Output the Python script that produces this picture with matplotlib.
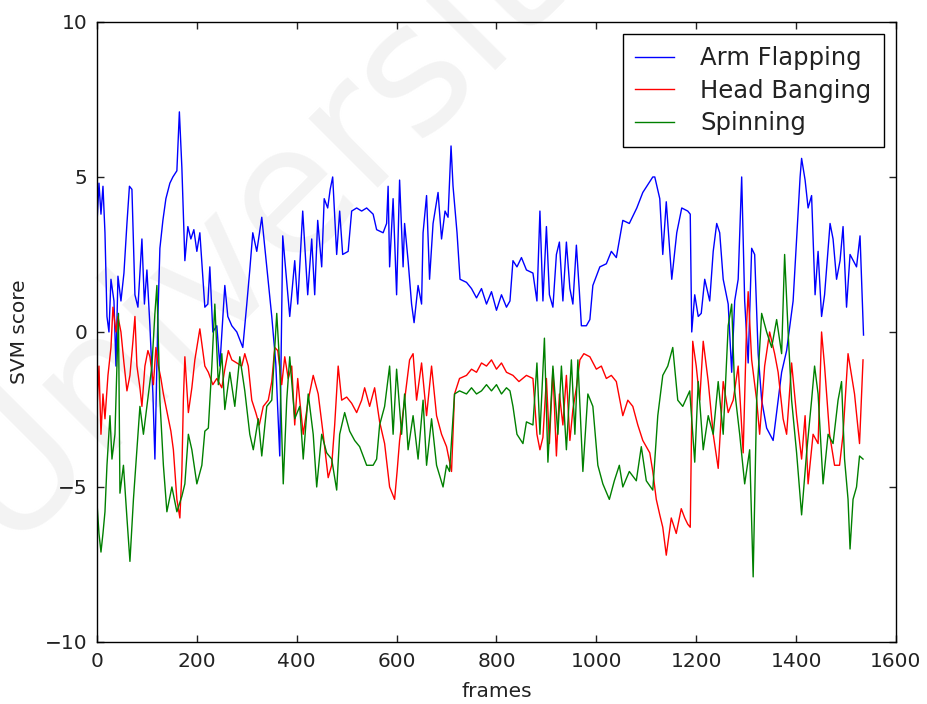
import matplotlib
matplotlib.use('Agg')
import matplotlib.pyplot as plt

# values
arm_frames = [0, 4, 8, 12, 16, 20, 24, 28, 34, 38, 42, 48, 54, 60, 65, 70, 76, 82, 90, 95,
              100, 106, 112, 116, 122, 126, 132, 138, 146, 152, 160, 165, 170, 176, 182, 188, 194,
              200, 206, 216, 222, 226, 232, 240, 246, 256, 262, 270, 280, 292, 300, 306, 312, 320,
              330, 340, 350, 358, 366, 372, 380, 386, 396, 402, 412, 422, 430, 436, 442, 450, 455,
              462, 467, 472, 480, 486, 492, 503, 510, 520, 530, 540, 553, 560, 573, 580, 583, 586,
              593, 600, 606, 613, 616, 623, 630, 635, 643, 650, 653, 660, 666, 673, 683, 690, 697,
              703, 709, 713, 721, 727, 740, 750, 760, 770, 780, 790, 800, 810, 820, 827, 833, 841,
              850, 860, 873, 881, 887, 893, 900, 906, 913, 920, 926, 933, 940, 947, 953, 960, 966,
              970, 980, 987, 993, 1007, 1020, 1030, 1040, 1053, 1066, 1081, 1093, 1105, 1113, 1117,
              1127, 1133, 1140, 1151, 1161, 1171, 1183, 1188, 1191, 1197, 1204, 1210, 1217, 1227,
              1234, 1241, 1247, 1254, 1264, 1271, 1277, 1284, 1291, 1297, 1304, 1311, 1317, 1324,
              1331, 1341, 1354, 1361, 1371, 1381, 1394, 1401, 1408, 1411, 1418, 1424, 1431, 1438,
              1444, 1451, 1457, 1468, 1474, 1481, 1488, 1494, 1501, 1508, 1521, 1528, 1535]
arm_score = [3.5, 4.8, 3.8, 4.7, 3.2, 0.5, 0.0, 1.7, 1.0, -1.1, 1.8, 1.0, 1.9, 3.5, 4.7, 4.6, 1.2, 0.8, 3.0, 0.9,
             2.0, 0.2, -2.0, -4.1, 0.5, 2.7, 3.6, 4.3, 4.8, 5.0, 5.2, 7.1, 5.3, 2.3, 3.4, 3.0, 3.3,
             2.6, 3.2, 0.8, 0.9, 2.1, 0.0, 0.2, -1.1, 1.5, 0.5, 0.2, 0.0, -0.5, 0.9, 2.0, 3.2, 2.6,
             3.7, 2.1, 0.5, -1.0, -4.0, 3.1, 1.6, 0.5, 2.3, 0.9, 3.9, 1.2, 3.0, 1.2, 3.6, 2.1, 4.3,
             4.0, 4.6, 5.0, 2.5, 3.9, 2.5, 2.6, 3.9, 4.0, 3.9, 4.0, 3.8, 3.3, 3.2, 3.5, 4.7, 2.1,
             4.3, 1.2, 4.9, 2.1, 3.5, 2.3, 0.9, 0.3, 1.5, 0.9, 3.2, 4.4, 1.7, 3.5, 4.5, 3.0, 3.9,
             3.7, 6.0, 4.7, 3.2, 1.7, 1.6, 1.4, 1.1, 1.4, 0.9, 1.3, 0.7, 1.2, 0.8, 1.0, 2.3, 2.1,
             2.4, 2.0, 1.9, 1.0, 3.9, 1.0, 3.4, 1.2, 0.8, 2.5, 2.9, 1.0, 2.9, 1.4, 0.9, 2.8, 1.3,
             0.2, 0.2, 0.4, 1.5, 2.1, 2.2, 2.6, 2.4, 3.6, 3.5, 4.0, 4.5, 4.8, 5.0, 5.0,
             4.3, 2.5, 4.2, 1.7, 3.2, 4.0, 3.9, 3.8, 0.0, 1.2, 0.5, 0.6, 1.7, 1.0,
             2.6, 3.5, 3.2, 1.7, 0.9, -1.3, 1.0, 1.7, 5.0, 1.0, -1.0, 2.7, 2.5, -0.7,
             -2.2, -3.1, -3.5, -2.6, -1.3, -0.6, 1.0, 3.0, 5.0, 5.6, 4.9, 4.0, 4.4, 1.2,
             2.6, 0.5, 1.2, 3.5, 3.0, 1.7, 2.3, 3.4, 0.8, 2.5, 2.1, 3.1, -0.1]

head_frames = [0, 4, 8, 12, 16, 22, 28, 32, 38, 42, 48, 54, 60, 66, 72, 76, 80, 86, 90, 96,
               102, 106, 113, 118, 123, 128, 133, 138, 143, 148, 153, 160, 166, 170, 173, 176, 183,
               190, 196, 206, 216, 223, 232, 240, 250, 256, 263, 270, 280, 290, 296, 303, 310, 318,
               325, 333, 343, 350, 356, 362, 370, 376, 383, 390, 396, 402, 406, 413, 423, 433, 443,
               453, 463, 470, 476, 483, 490, 500, 510, 520, 530, 536, 546, 556, 566, 576, 586, 596,
               601, 606, 616, 626, 633, 640, 650, 660, 670, 680, 690, 700, 710, 716, 726, 740, 750,
               760, 770, 780, 790, 800, 810, 820, 833, 845, 860, 873, 881, 887, 893, 900, 906, 913,
               920, 926, 933, 940, 947, 953, 960, 967, 975, 987, 1000, 1010, 1020, 1030, 1040, 1053,
               1063, 1073, 1083, 1093, 1107, 1113, 1120, 1127, 1133, 1140, 1150, 1160, 1170, 1177,
               1183, 1188, 1193, 1200, 1207, 1214, 1224, 1234, 1244, 1254, 1264, 1274, 1284, 1294,
               1301, 1304, 1311, 1321, 1327, 1337, 1347, 1357, 1364, 1374, 1381, 1391, 1401, 1411,
               1418, 1424, 1434, 1444, 1451, 1457, 1467, 1477, 1487, 1494, 1504, 1511, 1517, 1527, 1534]
head_score = [-2.5, -1.1, -3.3, -2.0, -2.8, -1.4, -0.5, 0.8, 0.0, 0.5, 0.0, -1.0, -1.9, -1.4, -0.3, 0.5, -1.1, -1.8, -2.4, -1.1,
              -0.6, -0.8, -1.7, -0.5, -1.1, -1.5, -2.0, -2.4, -2.8, -3.2, -3.8, -5.4, -6.0, -4.5, -2.2, -0.8, -2.6,
              -1.8, -0.9, 0.1, -1.1, -1.3, -1.7, -1.5, -1.8, -1.2, -0.6, -0.9, -1.0, -1.1, -0.7, -1.1, -2.2, -2.6,
              -3.0, -2.4, -2.2, -1.6, -0.5, -0.6, -1.7, -0.8, -1.5, -1.1, -3.0, -1.5, -2.2, -3.3, -2.2, -1.4, -2.0,
              -3.3, -4.7, -4.3, -3.0, -1.1, -2.2, -2.1, -2.3, -2.6, -2.2, -1.8, -2.4, -1.8, -2.9, -3.6, -5.0, -5.4,
              -4.5, -3.5, -2.2, -0.9, -0.7, -2.2, -1.0, -2.7, -1.1, -2.7, -3.3, -3.7, -4.5, -2.0, -1.5, -1.4, -1.2,
              -1.3, -1.0, -1.1, -0.9, -1.2, -1.0, -1.3, -1.4, -1.6, -1.4, -1.5, -3.3, -3.8, -3.4, -1.5, -3.6, -1.2,
              -4.0, -2.0, -3.0, -1.4, -3.5, -2.5, -1.8, -0.9, -0.7, -0.8, -1.2, -1.1, -1.5, -1.4, -1.6, -2.7,
              -2.2, -2.4, -3.0, -3.5, -3.9, -4.5, -5.4, -5.9, -6.3, -7.2, -6.0, -6.5, -5.7, -6.0,
              -6.2, -6.3, -0.3, -1.1, -2.2, -0.3, -1.6, -3.3, -4.4, -1.6, -2.6, -2.2, -1.1, -3.9,
              0.3, 1.3, -0.9, -2.2, -3.3, -1.1, 0.0, -0.7, -1.3, -2.8, -3.3, -1.0, -2.7, -4.1,
              -2.7, -4.9, -3.3, -3.6, 0.0, -1.1, -3.3, -4.3, -4.3, -3.3, -0.7, -1.4, -2.0, -3.6, -0.9]

spin_frames = [0, 4, 8, 12, 16, 20, 26, 30, 36, 40, 43, 46, 53, 60, 66, 73, 80, 86, 93, 103,
               110, 116, 120, 126, 133, 140, 150, 160, 170, 176, 183, 190, 200, 210, 216, 223, 230,
               236, 243, 250, 256, 266, 276, 286, 296, 306, 313, 323, 330, 340, 350, 360, 366, 373,
               380, 386, 396, 406, 413, 423, 433, 440, 450, 460, 470, 480, 486, 496, 506, 516, 526,
               540, 553, 560, 566, 576, 586, 593, 600, 610, 616, 623, 633, 643, 653, 660, 670, 680,
               693, 700, 706, 716, 726, 740, 750, 760, 770, 780, 790, 800, 810, 820, 827, 833, 841,
               853, 860, 873, 881, 887, 896, 903, 913, 923, 930, 940, 950, 957, 963, 973, 983, 993,
               1003, 1013, 1026, 1036, 1046, 1053, 1066, 1080, 1090, 1100, 1113, 1123, 1133, 1143,
               1153, 1163, 1173, 1187, 1197, 1204, 1214, 1224, 1234, 1244, 1254, 1264, 1271, 1277,
               1287, 1297, 1307, 1314, 1321, 1331, 1341, 1351, 1361, 1371, 1377, 1384, 1391, 1401,
               1411, 1421, 1431, 1437, 1444, 1454, 1464, 1474, 1484, 1491, 1497, 1504, 1508, 1514,
               1521, 1527, 1534]
spin_score = [-5.5, -6.5, -7.1, -6.5, -5.8, -4.3, -2.7, -4.1, -3.3, -1.0, 0.6, -5.2, -4.3, -6.0, -7.4, -5.4, -3.8, -2.4, -3.3, -2.0,
              -1.1, 0.6, 1.5, -2.2, -4.3, -5.8, -5.0, -5.8, -5.3, -4.9, -3.3, -3.8, -4.9, -4.3, -3.2, -3.1, -1.1,
              0.9, -1.7, -0.7, -2.5, -1.3, -2.4, -0.8, -1.9, -3.3, -3.8, -2.8, -4.0, -2.4, -2.2, 0.6, -1.1, -4.9,
              -2.2, -0.8, -2.8, -2.4, -4.1, -2.0, -3.3, -5.0, -3.3, -3.9, -4.1, -5.1, -3.3, -2.6, -3.2, -3.5, -3.7,
              -4.3, -4.3, -4.1, -3.0, -2.4, -1.1, -3.3, -1.2, -3.3, -2.0, -3.8, -2.7, -4.1, -2.2, -4.3, -2.8, -4.3,
              -5.0, -4.3, -4.5, -2.0, -1.9, -2.0, -1.8, -2.0, -1.9, -1.7, -1.9, -1.7, -2.0, -1.8, -1.9, -2.4, -3.3,
              -3.6, -2.9, -3.0, -1.0, -3.3, -0.2, -4.2, -1.1, -3.3, -1.1, -3.8, -0.9, -3.3, -0.9, -4.5, -2.0, -2.4,
              -4.3, -4.9, -5.4, -4.8, -4.3, -5.0, -4.5, -4.8, -3.7, -4.8, -5.1, -2.7, -1.4, -1.1,
              -0.5, -2.2, -2.4, -1.9, -4.2, -1.6, -3.8, -2.7, -3.3, -1.6, -3.3, 0.2, 0.9, -1.9,
              -3.3, -4.9, -3.8, -7.9, -2.2, 0.6, 0.0, -0.5, 0.4, -0.7, 2.5, 0.0, -2.2, -3.9,
              -5.9, -3.9, -2.2, -1.1, -2.0, -4.9, -3.3, -3.6, -2.2, -1.6, -4.1, -5.4, -7.0, -5.4,
              -5.0, -4.0, -4.1]

fig = plt.figure(figsize=(9.28, 7.04), dpi=100, facecolor='white')
ax = fig.add_axes([0.1045, 0.0881, 0.861, 0.8807])
ax.patch.set_visible(False)

# faint watermark behind the plot (runs off the top edge, as in the source)
fig.text(0.005, 0.225, 'Universit', rotation=45, rotation_mode='anchor',
         ha='left', va='baseline', fontsize=128, color='#f3f3f3', zorder=-1)

ax.plot(arm_frames, arm_score, color='b', lw=1.0, label='Arm Flapping')
ax.plot(head_frames, head_score, color='r', lw=1.0, label='Head Banging')
ax.plot(spin_frames, spin_score, color='g', lw=1.0, label='Spinning')

ax.set_xlim(0, 1600)
ax.set_ylim(-10, 10)
ax.set_xticks(range(0, 1601, 200))
ax.set_yticks([-10, -5, 0, 5, 10])
ax.tick_params(direction='in', top=True, right=True, length=5, width=1,
               labelsize=14.5, pad=7, colors='#222222')
for s in ax.spines.values():
    s.set_linewidth(1.0)
    s.set_color('black')

ax.set_xlabel('frames', fontsize=14.5, color='#222222', labelpad=8)
ax.set_ylabel('SVM score', fontsize=14.5, color='#222222', labelpad=11)

leg = ax.legend(loc='upper right', fontsize=17.5, fancybox=False, framealpha=1,
                edgecolor='black', handlelength=1.6, handletextpad=1.1,
                labelspacing=0.35, borderpad=0.5)
leg.get_frame().set_linewidth(1.0)
for t in leg.get_texts():
    t.set_color('#222222')

fig.savefig('out.png', dpi=100)
